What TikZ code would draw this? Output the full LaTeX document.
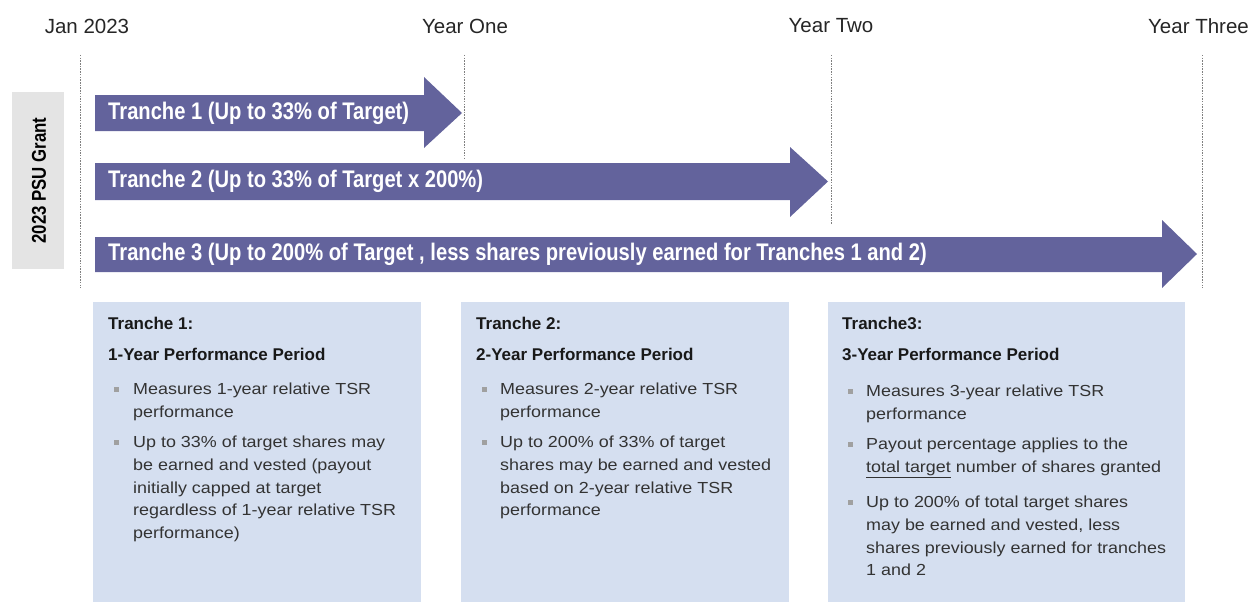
\documentclass[tikz,border=0pt]{standalone}
\usepackage{fontspec}
\setmainfont{Liberation Sans}
\newfontfamily\narrowfont[FakeStretch=0.84]{Liberation Sans}
\newfontfamily\widefont[FakeStretch=1.12]{Liberation Sans}
\usepackage{xcolor}
\usetikzlibrary{positioning}
\definecolor{arrowblue}{HTML}{63639C}
\definecolor{boxblue}{HTML}{D5DFF0}
\definecolor{grantgray}{HTML}{E4E4E4}
\definecolor{bulletgray}{HTML}{A0A0A0}
\tikzset{
  yearlabel/.style={font=\fontsize{20.5}{24}\selectfont, text=black!85},
  yearline/.style={gray, line width=0.6pt, dash pattern=on 1.5pt off 1.2pt},
  tranchelabel/.style={anchor=west, text=white, inner sep=0pt, font=\narrowfont\bfseries\fontsize{24}{28}\selectfont},
  boxhead/.style={anchor=base west, inner sep=0pt, font=\bfseries\fontsize{17}{20}\selectfont, text=black!90},
  boxline/.style={anchor=base west, inner sep=0pt, font=\widefont\fontsize{16}{19}\selectfont, text=black!80},
  bulletbox/.style={fill=bulletgray, minimum size=5pt, inner sep=0pt}
}
\begin{document}
\begin{tikzpicture}[x=1pt,y=-1pt]
\useasboundingbox (0,0) rectangle (1250,602);
% year labels
\node[yearlabel] (jan) at (87,26) {Jan 2023};
\node[yearlabel] (yone) at (465,26) {Year One};
\node[yearlabel] (ytwo) at (831,26) {Year Two};
\node[yearlabel, anchor=east, inner sep=1pt] (ythree) at (1250,26) {Year Three};
\draw[yearline] (80,55) -- (80,288);
\draw[yearline] (464,55) -- (464,158);
\draw[yearline] (831,55) -- (831,225);
\draw[yearline] (1202,55) -- (1202,288);
% grant label
\fill[grantgray] (12,92) rectangle (64,269);
\node[rotate=90, font=\narrowfont\bfseries\fontsize{20}{22}\selectfont] (grant) at (39,180.5) {2023 PSU Grant};
% arrows
\fill[arrowblue] (95,95) -- (424,95) -- (424,77) -- (462,113) -- (424,148) -- (424,131) -- (95,131) -- cycle;
\fill[arrowblue] (95,163) -- (790,163) -- (790,147) -- (828,181.5) -- (790,217) -- (790,200) -- (95,200) -- cycle;
\fill[arrowblue] (95,237) -- (1162,237) -- (1162,220) -- (1197,254) -- (1162,288) -- (1162,272) -- (95,272) -- cycle;
\node[tranchelabel] (t1) at (108,113) {Tranche 1 (Up to 33\% of Target)};
\node[tranchelabel] (t2) at (108,181.5) {Tranche 2 (Up to 33\% of Target x 200\%)};
\node[tranchelabel] (t3) at (108,254.5) {Tranche 3 (Up to 200\% of Target , less shares previously earned for Tranches 1 and 2)};
% boxes
\fill[boxblue] (93,302) rectangle (421,602);
\fill[boxblue] (461,302) rectangle (789,602);
\fill[boxblue] (828,302) rectangle (1185,602);
% box 1
\node[boxhead] (h1a) at (108,329) {Tranche 1:};
\node[boxhead] (h1b) at (108,360) {1-Year Performance Period};
\node[bulletbox] (b1a) at (116,389) {};
\node[boxline] at (133,394) {Measures 1-year relative TSR};
\node[boxline] at (133,417) {performance};
\node[bulletbox] (b1b) at (116,442) {};
\node[boxline] at (133,447) {Up to 33\% of target shares may};
\node[boxline] at (133,470) {be earned and vested (payout};
\node[boxline] at (133,493) {initially capped at target};
\node[boxline] at (133,515.5) {regardless of 1-year relative TSR};
\node[boxline] at (133,538) {performance)};
% box 2
\node[boxhead] (h2a) at (476,329) {Tranche 2:};
\node[boxhead] (h2b) at (476,360) {2-Year Performance Period};
\node[bulletbox] (b2a) at (484,389) {};
\node[boxline] at (500,394) {Measures 2-year relative TSR};
\node[boxline] at (500,417) {performance};
\node[bulletbox] (b2b) at (484,442) {};
\node[boxline] at (500,447) {Up to 200\% of 33\% of target};
\node[boxline] at (500,470) {shares may be earned and vested};
\node[boxline] at (500,493) {based on 2-year relative TSR};
\node[boxline] at (500,515.5) {performance};
% box 3
\node[boxhead] (h3a) at (842,329) {Tranche3:};
\node[boxhead] (h3b) at (842,360) {3-Year Performance Period};
\node[bulletbox] (b3a) at (850,391) {};
\node[boxline] at (866,396) {Measures 3-year relative TSR};
\node[boxline] at (866,419) {performance};
\node[bulletbox] (b3b) at (850,444) {};
\node[boxline] at (866,449) {Payout percentage applies to the};
\node[boxline] at (866,472) {\underline{total target} number of shares granted};
\node[bulletbox] (b3c) at (850,502) {};
\node[boxline] at (866,507) {Up to 200\% of total target shares};
\node[boxline] at (866,530) {may be earned and vested, less};
\node[boxline] at (866,553) {shares previously earned for tranches};
\node[boxline] at (866,575) {1 and 2};
\end{tikzpicture}
\end{document}
